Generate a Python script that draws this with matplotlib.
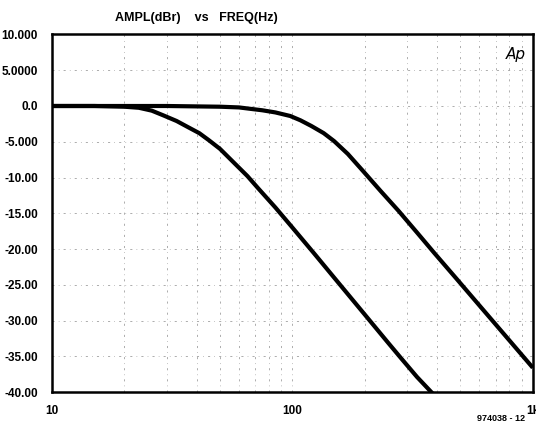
import numpy as np
import matplotlib.pyplot as plt
from matplotlib.ticker import FixedLocator, NullFormatter

# values
freq_a = [10, 15, 20, 23, 26, 29, 33, 37, 41, 45, 50, 57, 65, 72, 85, 100,
          123, 150, 205, 250, 282, 330, 388]
ampl_a = [0.0, 0.0, -0.1, -0.25, -0.65, -1.3, -2.1, -3.0, -3.8, -4.8, -6.0, -7.9,
          -9.8, -11.5, -14.2, -17.0, -20.6, -24.1, -29.6, -33.1, -35.2, -37.9, -40.4]

freq_b = [10, 30, 50, 60, 67, 75, 85, 98, 108, 120, 135, 149, 170, 198, 233,
          277, 330, 388, 480, 607, 800, 1000]
ampl_b = [0.0, 0.0, -0.1, -0.2, -0.4, -0.6, -0.9, -1.4, -2.0, -2.8, -3.8, -4.9,
          -6.7, -9.2, -11.9, -14.7, -17.7, -20.5, -24.1, -28.1, -32.8, -36.6]

y_ticks = [10, 5, 0, -5, -10, -15, -20, -25, -30, -35, -40]
y_labels = ['10.000', '5.0000', '0.0', '-5.000', '-10.00', '-15.00', '-20.00',
            '-25.00', '-30.00', '-35.00', '-40.00']
x_ticks = [10, 100, 1000]
x_labels = ['10', '100', '1k']
x_minor = [20, 30, 40, 50, 60, 70, 80, 90, 200, 300, 400, 500, 600, 700, 800, 900]

plt.rcParams['font.family'] = ['Liberation Sans Narrow', 'Liberation Sans', 'DejaVu Sans']

fig = plt.figure(figsize=(5.36, 4.29), dpi=100)
ax = fig.add_axes([0.097, 0.0862, 0.897, 0.8334])

for f, a in [(freq_a, ampl_a), (freq_b, ampl_b)]:
    ax.plot(f, a, color='black', lw=3.0, solid_joinstyle='round',
            solid_capstyle='butt', zorder=3)

ax.set_xscale('log')
ax.set_xlim(10, 1000)
ax.set_ylim(-40, 10)

ax.set_yticks(y_ticks)
ax.set_yticklabels(y_labels, fontsize=8.5, fontweight='bold')
ax.xaxis.set_major_locator(FixedLocator(x_ticks))
ax.xaxis.set_minor_locator(FixedLocator(x_minor))
ax.xaxis.set_minor_formatter(NullFormatter())
ax.set_xticklabels(x_labels, fontsize=8.5, fontweight='bold')
ax.tick_params(which='both', length=0)
ax.tick_params(axis='y', pad=10)
ax.tick_params(axis='x', pad=9)
for lbl in ax.get_xticklabels():
    lbl.set_clip_on(False)

grid_style = dict(color='0.55', lw=0.5, ls=(0, (3, 6, 1, 6)))
ax.grid(True, which='both', axis='x', **grid_style)
ax.grid(True, which='major', axis='y', **grid_style)

for s in ax.spines.values():
    s.set_linewidth(1.8)

fig.text(0.215, 0.958, 'AMPL(dBr)    vs   FREQ(Hz)', fontsize=9, fontweight='bold',
         ha='left', va='center')
ax.text(0.985, 0.965, 'Ap', transform=ax.transAxes, fontsize=11, style='italic',
        ha='right', va='top', family='DejaVu Sans')
fig.text(0.935, 0.015, '974038 - 12', fontsize=6.5, fontweight='bold',
         ha='center', va='bottom')

fig.savefig('out.png', dpi=100)
